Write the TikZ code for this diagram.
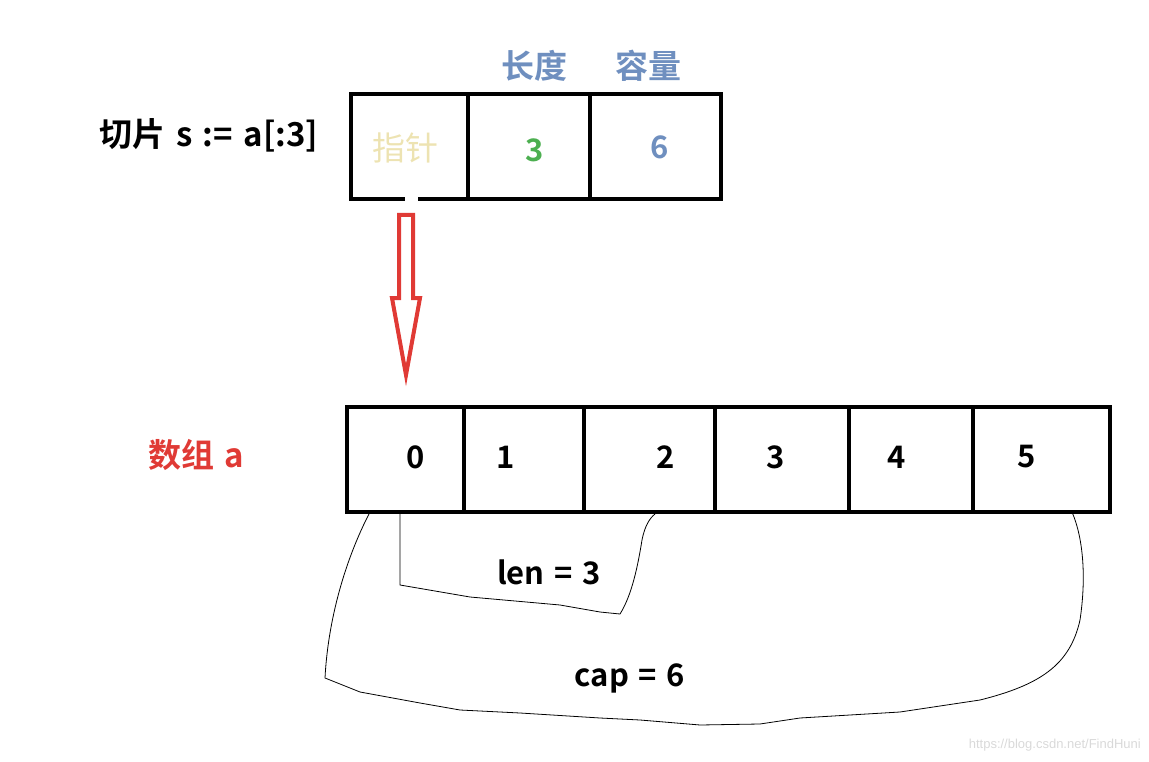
\documentclass[tikz,border=0pt]{standalone}
\usepackage{fontspec}
\setmainfont{Noto Sans CJK SC}[BoldFont={* Bold},WordSpace=1.4]
\newfontfamily\wmfont{Liberation Sans}
\definecolor{boxblue}{HTML}{6F8FBF}
\definecolor{ptryellow}{HTML}{EDE3B2}
\definecolor{lengreen}{HTML}{4CAF50}
\definecolor{arrred}{HTML}{E03A35}
\begin{document}
\begin{tikzpicture}[x=1pt,y=-1pt,
  cell/.style={draw=black,line width=4pt,minimum height=105pt,inner sep=0pt,anchor=north west},
  lbl/.style={font=\fontsize{31}{35}\selectfont\bfseries,inner sep=0pt},
  cjk/.style={font=\fontsize{33}{37}\selectfont\bfseries,inner sep=0pt},
  curve/.style={draw=black,line width=0.8pt}]
\useasboundingbox (0,0) rectangle (1149,762);
% top slice struct
\node[cell,minimum width=117pt] (p) at (349,92) {};
\node[cell,minimum width=122pt] (l) at (466,92) {};
\node[cell,minimum width=131pt] (c) at (588,92) {};
\fill[white] (405,192) rectangle (418,202);
\node[cjk,text=ptryellow,font=\fontsize{33}{37}\selectfont] (pt) at (405,148) {指针};
\node[lbl,text=lengreen] (lv) at (535,150) {3};
\node[lbl,text=boxblue] (cv) at (660,147) {6};
\node[cjk,text=boxblue] (lh) at (534,66) {长度};
\node[cjk,text=boxblue] (ch) at (648,66) {容量};
\node[cjk,text=black] (st) at (209,135) {切片 s := a[:3]};
% red arrow
\coordinate (at) at (406,215);
\draw[arrred,line width=4pt,line join=miter]
  (399,215) -- (413,215) -- (413,298) -- (420,298) -- (406,375) -- (392,298) -- (399,298) -- cycle;
% array
\node[cell,minimum width=117pt] (a0) at (345,405) {};
\node[cell,minimum width=120pt] (a1) at (462,405) {};
\node[cell,minimum width=131pt] (a2) at (582,405) {};
\node[cell,minimum width=134pt] (a3) at (713,405) {};
\node[cell,minimum width=124pt] (a4) at (847,405) {};
\node[cell,minimum width=137pt] (a5) at (971,405) {};
\node[lbl] (n0) at (416,457) {0};
\node[lbl] (n1) at (506,457) {1};
\node[lbl] (n2) at (666,457) {2};
\node[lbl] (n3) at (776,457) {3};
\node[lbl] (n4) at (897,457) {4};
\node[lbl] (n5) at (1027,457) {5};
\node[cjk,text=arrred] (arr) at (196,455) {数组 a};
% len bracket
\draw[curve] (400,514) -- (400,585) -- (470,597) -- (560,605) -- (600,612) -- (620,614)
  .. controls (632,595) and (638,565) .. (642,540) .. controls (645,525) and (650,518) .. (655,514);
\node[lbl] (len) at (549,572) {len = 3};
% cap bracket
\draw[curve] (370,512) .. controls (345,560) and (328,620) .. (325,678)
  -- (360,692) -- (420,703) -- (460,710) -- (520,713) -- (600,718) -- (640,720)
  -- (700,725) -- (760,724) -- (800,718) -- (900,712) -- (980,700)
  .. controls (1040,685) and (1070,665) .. (1080,620)
  .. controls (1086,580) and (1084,540) .. (1072,512);
\node[lbl] (cap) at (630,678) {cap = 6};
\node[font=\wmfont\fontsize{13}{15}\selectfont,text=black!15,anchor=east,inner sep=0pt] (wm) at (1141,745) {https://blog.csdn.net/FindHuni};
\end{tikzpicture}
\end{document}
